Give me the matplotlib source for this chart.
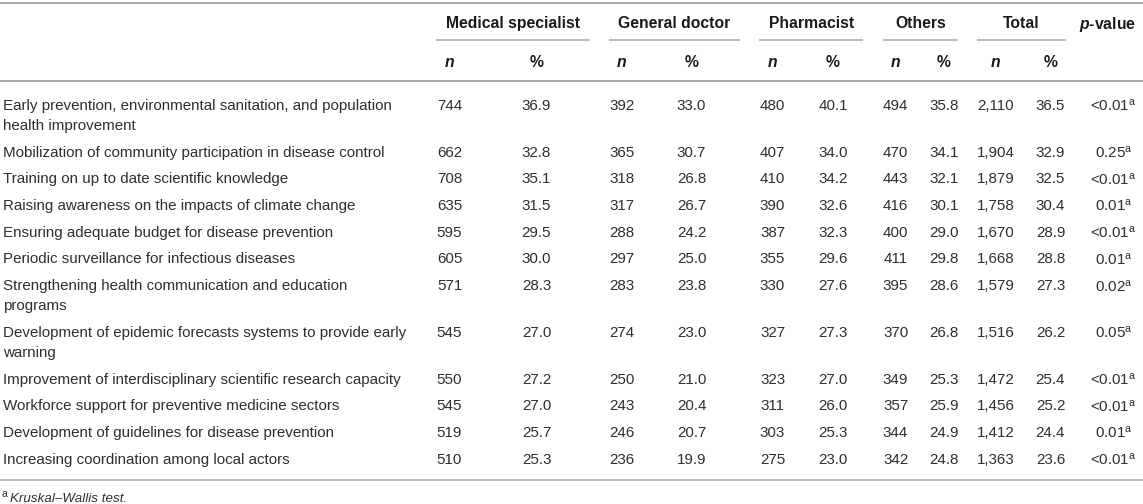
import matplotlib

matplotlib.use("Agg")
import matplotlib.pyplot as plt

plt.rcParams["font.family"] = ["Liberation Sans", "DejaVu Sans"]
plt.rcParams["mathtext.fontset"] = "custom"
plt.rcParams["mathtext.rm"] = "Liberation Sans"
plt.rcParams["mathtext.it"] = "Liberation Sans:italic"
plt.rcParams["mathtext.bf"] = "Liberation Sans:bold"
plt.rcParams["mathtext.bfit"] = "Liberation Sans:bold:italic"

# ---- table data ----
groups = ["Medical specialist", "General doctor", "Pharmacist", "Others", "Total"]

items = [
    "Early prevention, environmental sanitation, and population\nhealth improvement",
    "Mobilization of community participation in disease control",
    "Training on up to date scientific knowledge",
    "Raising awareness on the impacts of climate change",
    "Ensuring adequate budget for disease prevention",
    "Periodic surveillance for infectious diseases",
    "Strengthening health communication and education\nprograms",
    "Development of epidemic forecasts systems to provide early\nwarning",
    "Improvement of interdisciplinary scientific research capacity",
    "Workforce support for preventive medicine sectors",
    "Development of guidelines for disease prevention",
    "Increasing coordination among local actors",
]

med_n = [744, 662, 708, 635, 595, 605, 571, 545, 550, 545, 519, 510]
med_pct = [36.9, 32.8, 35.1, 31.5, 29.5, 30.0, 28.3, 27.0, 27.2, 27.0, 25.7, 25.3]
gen_n = [392, 365, 318, 317, 288, 297, 283, 274, 250, 243, 246, 236]
gen_pct = [33.0, 30.7, 26.8, 26.7, 24.2, 25.0, 23.8, 23.0, 21.0, 20.4, 20.7, 19.9]
pha_n = [480, 407, 410, 390, 387, 355, 330, 327, 323, 311, 303, 275]
pha_pct = [40.1, 34.0, 34.2, 32.6, 32.3, 29.6, 27.6, 27.3, 27.0, 26.0, 25.3, 23.0]
oth_n = [494, 470, 443, 416, 400, 411, 395, 370, 349, 357, 344, 342]
oth_pct = [35.8, 34.1, 32.1, 30.1, 29.0, 29.8, 28.6, 26.8, 25.3, 25.9, 24.9, 24.8]
tot_n = [2110, 1904, 1879, 1758, 1670, 1668, 1579, 1516, 1472, 1456, 1412, 1363]
tot_pct = [36.5, 32.9, 32.5, 30.4, 28.9, 28.8, 27.3, 26.2, 25.4, 25.2, 24.4, 23.6]
p_values = ["<0.01", "0.25", "<0.01", "0.01", "<0.01", "0.01", "0.02", "0.05",
            "<0.01", "<0.01", "0.01", "<0.01"]

footnote = "Kruskal\u2013Wallis test."

# ---- layout (pixel coordinates) ----
W, H = 1143, 504
n_x = [449.5, 621.5, 772.5, 895.5, 996]
pct_x = [536.5, 691.5, 833, 944, 1050.5]
group_x = [513.5, 674.5, 811.5, 920.5, 1021.5]
rule_spans = [(436, 590), (609, 740), (759, 863), (883, 958), (977, 1066)]
p_x = 1113.5

TEXT = "#2e2e2e"
HEAD = "#1a1a1a"
RULE = "#a8a8a8"
BODY_FS = 10.9
HEAD_FS = 11.3

fig = plt.figure(figsize=(W / 100, H / 100), dpi=100)
ax = fig.add_axes([0, 0, 1, 1])
ax.set_xlim(0, W)
ax.set_ylim(H, 0)
ax.axis("off")

# horizontal rules
ax.plot([0, W], [3, 3], color=RULE, lw=1.4, solid_capstyle="butt")
ax.plot([0, W], [81, 81], color=RULE, lw=1.4, solid_capstyle="butt")
ax.plot([0, W], [480, 480], color=RULE, lw=1.1, solid_capstyle="butt")
for x0, x1 in rule_spans:
    ax.plot([x0, x1], [40, 40], color=RULE, lw=1.1, solid_capstyle="butt")

# headers
for gx, name in zip(group_x, groups):
    ax.text(gx, 22, name, ha="center", va="center_baseline",
            fontsize=HEAD_FS, fontweight="bold", color=HEAD)
ax.text(1107, 22, r"$\mathbfit{p}$-value", ha="center", va="center_baseline",
        fontsize=HEAD_FS, fontweight="bold", color=HEAD)
for nx, px in zip(n_x, pct_x):
    ax.text(nx, 61, "n", ha="center", va="center_baseline", fontsize=HEAD_FS,
            fontweight="bold", fontstyle="italic", color=HEAD)
    ax.text(px, 61, "%", ha="center", va="center_baseline", fontsize=HEAD_FS,
            fontweight="bold", color=HEAD)

# body rows
cols_n = [med_n, gen_n, pha_n, oth_n, tot_n]
cols_pct = [med_pct, gen_pct, pha_pct, oth_pct, tot_pct]
line_step = 20
row_gap = 26.7
y = 104.5
for i, label in enumerate(items):
    lines = label.split("\n")
    for j, line in enumerate(lines):
        ax.text(3, y + j * line_step, line, ha="left", va="center_baseline",
                fontsize=BODY_FS, color=TEXT)
    for k in range(5):
        ax.text(n_x[k], y, f"{cols_n[k][i]:,}", ha="center",
                va="center_baseline", fontsize=BODY_FS, color=TEXT)
        ax.text(pct_x[k], y, f"{cols_pct[k][i]:.1f}", ha="center",
                va="center_baseline", fontsize=BODY_FS, color=TEXT)
    ax.text(p_x, y, p_values[i] + r"$^{\mathrm{a}}$", ha="center",
            va="center_baseline", fontsize=BODY_FS, color=TEXT)
    y += (len(lines) - 1) * line_step + row_gap

# footnote
ax.text(2, 493, "a", ha="left", va="center_baseline", fontsize=7.5, color=TEXT)
ax.text(10, 497, footnote, ha="left", va="center_baseline", fontsize=9.6,
        fontstyle="italic", color=TEXT)

fig.savefig("out.png", dpi=100)
